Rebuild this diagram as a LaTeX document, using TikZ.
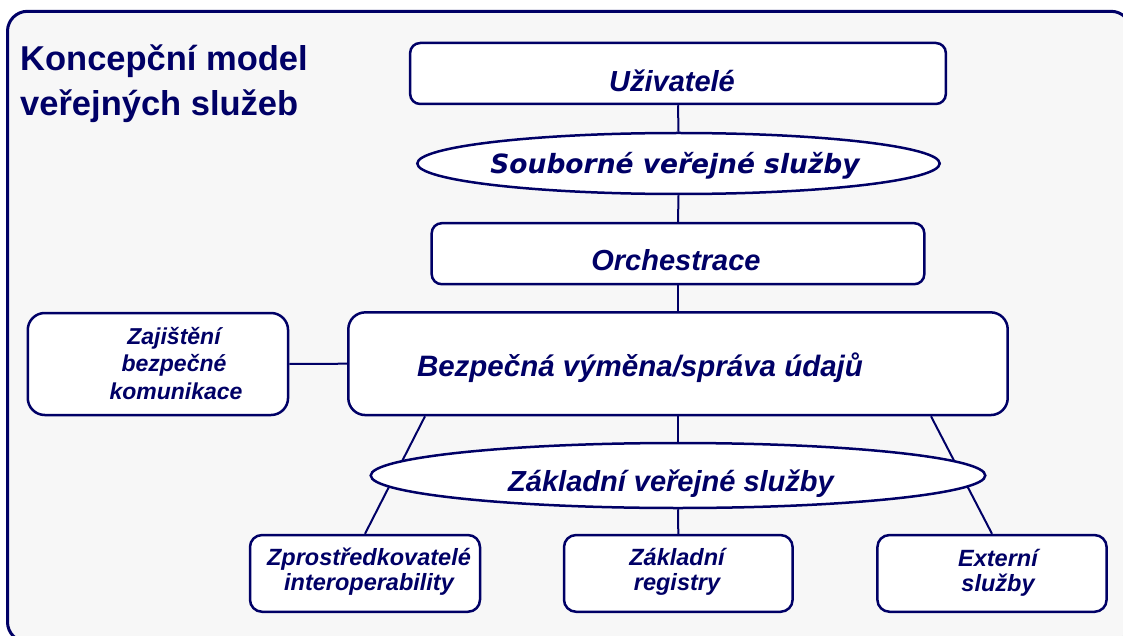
\documentclass[tikz,border=0pt]{standalone}
\usepackage{fontspec}
\setmainfont{Liberation Sans}
\newfontfamily\wideface{DejaVu Sans}
\usetikzlibrary{shapes.geometric,calc}
\definecolor{navy}{RGB}{0,0,102}
\definecolor{panel}{RGB}{247,247,247}

\begin{document}
\begin{tikzpicture}[x=1pt,y=-1pt,
  box/.style={draw=navy, line width=2.5pt, fill=white, inner sep=0pt},
  oval/.style={ellipse, draw=navy, line width=2.5pt, fill=white, inner sep=0pt},
  link/.style={draw=navy, line width=2pt},
  txt/.style={text=navy, inner sep=0pt, anchor=base},
  big/.style={txt, font=\fontsize{29}{35}\selectfont\bfseries\itshape},
  small/.style={txt, font=\fontsize{23.5}{27}\selectfont\bfseries\itshape},
]
\useasboundingbox (0,0) rectangle (1123,636);
\fill[white] (0,0) rectangle (1123,636);

% outer panel
\draw[draw=navy, fill=panel, line width=3pt, rounded corners=20pt]
  (7.5,11.3) rectangle (1131,642);

% title
\node[txt, anchor=base west, font=\fontsize{34.5}{45}\selectfont\bfseries] (title1) at (20,71) {Koncepční model};
\node[txt, anchor=base west, font=\fontsize{34.5}{45}\selectfont\bfseries] (title2) at (20,116) {veřejných služeb};

% main column
\node[box, rounded corners=10pt, minimum width=535.7pt, minimum height=61pt] (users) at (678,73.5) {};
\node[oval, minimum width=522.4pt, minimum height=61pt] (sov) at (678.5,163.5) {};
\node[box, rounded corners=10pt, minimum width=492.6pt, minimum height=61pt] (orch) at (678,253.7) {};
\node[box, rounded corners=17pt, minimum width=659.4pt, minimum height=102.7pt] (bz) at (678,363.7) {};
\node[box, rounded corners=17pt, minimum width=260.3pt, minimum height=102pt] (zaj) at (157.9,364) {};

% bottom row
\node[box, rounded corners=12pt, minimum width=230pt, minimum height=76.7pt] (zp) at (365,573.4) {};
\node[box, rounded corners=12pt, minimum width=228.6pt, minimum height=76.7pt] (reg) at (678.3,573.4) {};
\node[box, rounded corners=12pt, minimum width=229.2pt, minimum height=76.7pt] (ext) at (992,573.4) {};

% connectors
\draw[link] (users.south) -- (sov.north);
\draw[link] (sov.south) -- (orch.north);
\draw[link] (orch.south) -- (bz.north);
\draw[link] (zaj.east) -- (bz.west);
\draw[link] ($(bz.south)+(-253,0)$) -- (zp.north);
\draw[link] ($(bz.south)+(253,0)$) -- (ext.north);

% basic services ellipse, drawn over the diagonal links
\node[oval, minimum width=614.6pt, minimum height=65pt] (zvs) at (678,475.5) {};
\draw[link] (bz.south) -- (zvs.north);
\draw[link] (zvs.south) -- (reg.north);

% labels
\node[big] (usersT) at (672,91.5) {Uživatelé};
\node[txt, font=\fontsize{26.5}{32}\selectfont\wideface\bfseries\itshape] (sovT) at (675,174) {Souborné veřejné služby};
\node[big] (orchT) at (676,270.5) {Orchestrace};
\node[big, font=\fontsize{29.5}{35}\selectfont\bfseries\itshape] (bzT) at (640,376) {Bezpečná výměna/správa údajů};
\node[big] (zvsT) at (671,491.7) {Základní veřejné služby};

\node[small, font=\fontsize{23}{27}\selectfont\bfseries\itshape] (zajT1) at (174,344) {Zajištění};
\node[small, font=\fontsize{23}{27}\selectfont\bfseries\itshape] (zajT2) at (174,371) {bezpečné};
\node[small, font=\fontsize{23}{27}\selectfont\bfseries\itshape] (zajT3) at (176,399) {komunikace};

\node[small] (zpT1) at (369,565.7) {Zprostředkovatelé};
\node[small] (zpT2) at (369,590.7) {interoperability};
\node[small] (regT1) at (677,565.7) {Základní};
\node[small] (regT2) at (677,590.7) {registry};
\node[small] (extT1) at (998,566) {Externí};
\node[small] (extT2) at (998,591) {služby};
\end{tikzpicture}
\end{document}
